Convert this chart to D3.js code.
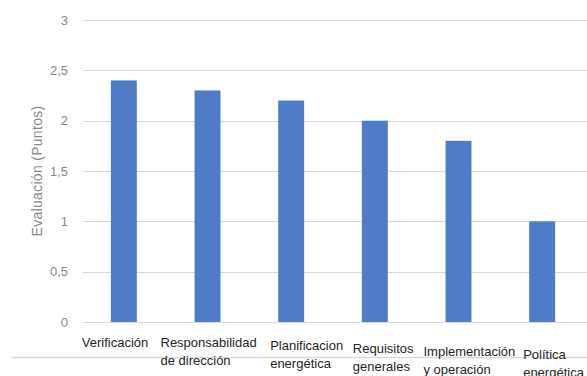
<!DOCTYPE html>
<html>
<head>
<meta charset="utf-8">
<script src="https://cdn.jsdelivr.net/npm/d3@7"></script>
<style>
  html, body { margin: 0; padding: 0; background: #ffffff; }
  svg { display: block; }
</style>
</head>
<body>
<svg id="chart" width="587" height="376"></svg>
<script>
// Evaluation scores per ISO 50001 requirement group
const categories = [
  ["Verificación"],
  ["Responsabilidad", "de dirección"],
  ["Planificacion", "energética"],
  ["Requisitos", "generales"],
  ["Implementación", "y operación"],
  ["Política", "energética"]
];
const scores = [2.4, 2.3, 2.2, 2.0, 1.8, 1.0];
const yTicks = [0, 0.5, 1, 1.5, 2, 2.5, 3];
const yTitle = "Evaluación (Puntos)";

const svg = d3.select("#chart");
const plot = { left: 82, right: 584, top: 20, bottom: 322 };
const font = "'Liberation Sans', Arial, sans-serif";

const x = d3.scaleBand()
  .domain(d3.range(categories.length))
  .range([plot.left, plot.right])
  .paddingInner(0.69)
  .paddingOuter(0.345);

const y = d3.scaleLinear()
  .domain([0, 3])
  .range([plot.bottom, plot.top]);

const fmt = v => String(v).replace(".", ",");

// Horizontal gridlines
svg.append("g")
  .selectAll("line")
  .data(yTicks)
  .join("line")
  .attr("x1", plot.left + 1)
  .attr("x2", 587)
  .attr("y1", d => Math.round(y(d)) + 0.5)
  .attr("y2", d => Math.round(y(d)) + 0.5)
  .attr("stroke", "#d9d9d9")
  .attr("stroke-width", 1);

// Y axis labels
const yAxis = d3.axisLeft(y).tickValues(yTicks).tickFormat(fmt).tickSize(0).tickPadding(0);
const gy = svg.append("g")
  .attr("transform", `translate(${plot.left - 14},0)`)
  .call(yAxis);
gy.select(".domain").remove();
gy.selectAll("text")
  .attr("font-family", font)
  .attr("font-size", 13)
  .attr("fill", "#888888");

// Y axis title
svg.append("text")
  .attr("transform", `translate(42,${(plot.top + plot.bottom) / 2}) rotate(-90)`)
  .attr("text-anchor", "middle")
  .attr("font-family", font)
  .attr("font-size", 14)
  .attr("letter-spacing", 0.3)
  .attr("fill", "#888888")
  .text(yTitle);

// Line under the category labels
svg.append("line")
  .attr("x1", 11).attr("x2", 587)
  .attr("y1", 357.5).attr("y2", 357.5)
  .attr("stroke", "#d9d9d9")
  .attr("stroke-width", 1.5);

// Bars
svg.append("g")
  .selectAll("rect")
  .data(scores)
  .join("rect")
  .attr("x", (d, i) => x(i))
  .attr("width", x.bandwidth())
  .attr("y", d => y(d))
  .attr("height", d => y(0) - y(d))
  .attr("fill", "#4e7cc9");

// Category labels (left-aligned, slightly staggered downwards)
const labelShift = [-42, -47, -21, -22, -35, -19];
const labelDrop = [0, 0, 3, 6, 9, 12];
const labels = svg.append("g")
  .selectAll("text")
  .data(categories)
  .join("text")
  .attr("x", (d, i) => x(i) + x.bandwidth() / 2 + labelShift[i])
  .attr("y", (d, i) => 347 + labelDrop[i])
  .attr("font-family", font)
  .attr("font-size", 13)
  .attr("fill", "#262626");

labels.selectAll("tspan")
  .data(d => d)
  .join("tspan")
  .attr("x", function () { return d3.select(this.parentNode).attr("x"); })
  .attr("dy", (d, i) => i === 0 ? 0 : 17.5)
  .text(d => d);
</script>
</body>
</html>
